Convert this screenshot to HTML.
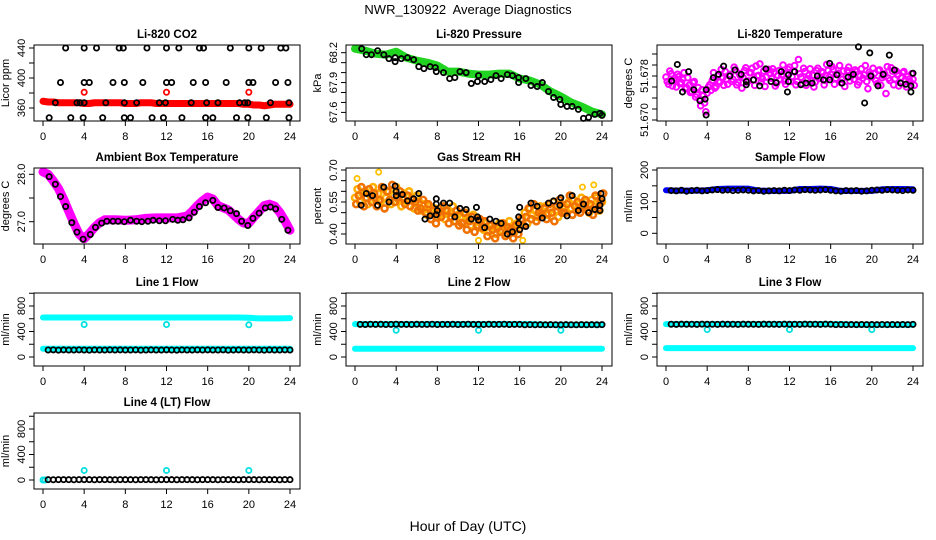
<!DOCTYPE html>
<html><head><meta charset="utf-8">
<style>
html,body{margin:0;padding:0;background:#fff;}
svg{display:block;font-family:"Liberation Sans",Arial,sans-serif;}
</style></head>
<body>
<svg id="chart" width="936" height="540" viewBox="0 0 936 540" xmlns="http://www.w3.org/2000/svg">
<text x="468" y="14" text-anchor="middle" font-size="13" style="white-space:pre">NWR_130922  Average Diagnostics</text>
<text x="468" y="531" text-anchor="middle" font-size="14">Hour of Day (UTC)</text>
</svg>
<script>
// ---------- data ----------
const xTicks = [0,4,8,12,16,20,24];
const cloudStep = 0.25;

const co2RedHalfHourly = [369,368,368,367,367,367,367,367,366,366,367,367,367,367,367,367,366,366,366,367,367,367,366,366,366,366,366,366,366,366,366,366,366,366,366,366,366,366,366,365,365,364,364,363,364,365,365,365,365];
const co2RedOutT = [4,12,20];
const co2RedOutV = [381,381,381];
const co2BlackT = [2.2,4,5.2,7.4,7.8,10.1,12,13.2,15.2,15.6,18.2,20,21.2,23.1,23.6, 1.7,4,4.5,6.8,7.9,9.7,12,12.5,14.6,15.8,17.8,20,20.4,22.6,23.8, 1.2,3.3,3.6,4,6.1,7.9,9.1,11.3,11.9,14.4,15.9,17,19.1,19.6,19.9,22.1,23.9, 0.6,2.7,3.9,5.8,7.9,8.5,10.6,11.7,13.5,15.8,16.5,18.8,19.9,21.7,23.9];
const co2BlackV = [440,440,440,440,440,440,440,440,440,440,440,440,440,440,440, 394,394,394,394,394,394,394,394,394,394,394,394,394,394,394, 367,367,367,367,367,367,367,367,367,367,367,367,367,367,367,367,367, 347,347,347,347,347,347,347,347,347,347,347,347,347,347,347];

const presGreenHourly = [68.24,68.22,68.19,68.18,68.21,68.15,68.12,68.10,68.07,68.01,68.01,67.99,67.98,67.98,67.99,67.99,67.94,67.92,67.88,67.81,67.76,67.70,67.66,67.61,67.58];
const presBlackT = [0.65,1.1,1.6,2.2,2.8,3.3,3.9,3.9,4.5,5.1,5.7,6.2,6.7,7.3,7.8,7.9,8.6,9.2,9.7,10.2,10.8,11.3,11.9,12,12.6,13.2,13.7,14.2,14.8,15.3,15.9,15.9,16.6,17.1,17.7,18.2,18.8,19.3,19.9,20,20.6,21.1,21.7,22.2,22.7,23.3,23.8,24];
const presBlackV = [68.24,68.18,68.18,68.22,68.18,68.14,68.15,68.11,68.14,68.15,68.13,68.06,68.04,68.06,68.05,68.01,68.0,67.94,67.95,68.01,68.0,67.89,67.91,67.97,67.91,67.93,67.97,67.94,67.98,67.97,67.95,67.90,67.94,67.87,67.86,67.90,67.81,67.75,67.73,67.68,67.66,67.66,67.63,67.54,67.55,67.58,67.59,67.57];

const tempMagA = [51.6778,51.6765,51.6784,51.6772,51.6760,51.6779,51.6768,51.6786,51.6759, 51.6763,51.6752,51.6770,51.6746,51.6738,51.6755,51.6731,51.6749, 51.6764,51.6772,51.6758,51.6780,51.6769,51.6776,51.6788,51.6765, 51.6783,51.6774,51.6791,51.6768,51.6780,51.6777,51.6795,51.6771, 51.6786,51.6773,51.6798,51.6781,51.6769,51.6789,51.6778,51.6792, 51.6776,51.6787,51.6767,51.6790,51.6782,51.6771,51.6785,51.6796, 51.6779,51.6799,51.6770,51.6784,51.6766,51.6788,51.6775,51.6793, 51.6781,51.6769,51.6794,51.6777,51.6786,51.6772,51.6790,51.6783, 51.6792,51.6776,51.6785,51.6768,51.6789,51.6779,51.6796,51.6780, 51.6774,51.6788,51.6769,51.6793,51.6782,51.6770,51.6787,51.6778, 51.6785,51.6766,51.6791,51.6777,51.6784,51.6797,51.6772,51.6789, 51.6775,51.6782,51.6768,51.6786,51.6773,51.6779,51.6769,51.6774];
const tempMagB = [51.6770,51.6789,51.6762,51.6776,51.6783,51.6766,51.6774,51.6757,51.6777, 51.6750,51.6768,51.6742,51.6759,51.6726,51.6744,51.6715,51.6760, 51.6754,51.6786,51.6761,51.6770,51.6792,51.6763,51.6774,51.6781, 51.6770,51.6796,51.6764,51.6784,51.6758,51.6790,51.6769,51.6786, 51.6794,51.6763,51.6780,51.6802,51.6775,51.6761,51.6791,51.6784, 51.6793,51.6762,51.6781,51.6774,51.6800,51.6765,51.6792,51.6770, 51.6788,51.6764,51.6810,51.6778,51.6794,51.6763,51.6781,51.6772, 51.6760,51.6790,51.6775,51.6788,51.6764,51.6801,51.6778,51.6797, 51.6765,51.6784,51.6799,51.6774,51.6761,51.6790,51.6771,51.6786, 51.6791,51.6764,51.6780,51.6776,51.6799,51.6757,51.6783,51.6794, 51.6772,51.6790,51.6763,51.6781,51.6748,51.6776,51.6795,51.6764, 51.6789,51.6762,51.6777,51.6788,51.6760,51.6774,51.6784,51.6763];
const tempBlackT = [0.55,1.1,1.6,2.2,2.7,3.3,3.8,3.9,3.9,4.6,5.1,5.6,6.2,6.7,7.3,7.8,7.8,8.5,9.1,9.7,10.2,10.7,11.2,11.8,11.9,11.9,12.5,13.1,13.6,14.2,14.7,15.3,15.9,15.9,16.6,17.1,17.7,18.2,18.7,19.3,19.8,19.9,20.6,21.1,21.7,22.2,22.8,23.3,23.8,23.8,24];
const tempBlackV = [51.6771,51.6801,51.6751,51.6788,51.6755,51.6735,51.6738,51.6755,51.6709,51.6777,51.6783,51.6798,51.6780,51.6791,51.6783,51.6770,51.6764,51.6773,51.6762,51.6793,51.6770,51.6768,51.6788,51.6751,51.6770,51.6782,51.6788,51.6764,51.6767,51.6767,51.6780,51.6773,51.6773,51.6803,51.6782,51.6767,51.6778,51.6783,51.6833,51.6731,51.6822,51.6780,51.6762,51.6783,51.6818,51.6791,51.6767,51.6765,51.6762,51.6751,51.6785];

const ambT = [0,0.5,1,1.5,2,2.5,3,3.5,4,4.5,5,5.5,6,7,8,9,10,11,12,13,14,14.5,15,15.5,16,16.5,17,18,19,19.5,20,20.5,21,21.5,22,22.5,23,23.5,24];
const ambMagV = [28.05,28.0,27.86,27.7,27.48,27.22,26.97,26.74,26.64,26.75,26.88,26.98,27.04,27.04,27.03,27.04,27.07,27.08,27.08,27.08,27.12,27.22,27.34,27.44,27.52,27.48,27.34,27.25,27.05,26.97,26.97,27.1,27.22,27.34,27.37,27.33,27.2,27.02,26.82];
const ambBlackT = [0.6,1.2,1.7,2.2,2.8,3.3,3.9,4.6,5.1,5.7,6.2,6.8,7.3,7.9,8.5,9.1,9.6,10.2,10.7,11.3,11.9,12.6,13.1,13.6,14.2,14.7,15.2,15.8,16.5,17,17.6,18.2,18.8,19.3,19.9,20.4,21,21.6,22.1,22.6,23.2,23.8];
const ambBlackV = [27.95,27.79,27.53,27.32,26.98,26.78,26.63,26.73,26.88,26.97,27.01,27.01,27.01,27.0,27.03,27.01,27.0,27.01,27.03,27.02,27.02,27.05,27.03,27.04,27.08,27.2,27.32,27.4,27.45,27.3,27.29,27.23,27.17,27.01,26.92,27.07,27.18,27.29,27.31,27.27,27.05,26.82];

const rhA = [.57,.61,.55,.59,.60,.54,.58,.62,.56, .59,.55,.61,.57,.60,.54,.58,.62, .56,.53,.59,.55,.60,.57,.52,.58, .55,.51,.54,.49,.53,.50,.52,.48, .52,.49,.47,.51,.50,.53,.46,.49, .48,.45,.50,.47,.44,.49,.46,.43, .46,.42,.45,.41,.44,.43,.40,.45, .42,.44,.40,.46,.43,.41,.45,.44, .47,.50,.45,.52,.49,.51,.48,.53, .50,.53,.49,.52,.55,.51,.48,.54, .53,.50,.55,.52,.56,.51,.54,.57, .52,.55,.50,.56,.53,.57,.51,.55];
const rhB = [.54,.58,.62,.53,.57,.61,.55,.59,.53, .56,.62,.52,.60,.56,.63,.55,.57, .60,.57,.54,.58,.53,.56,.55,.51, .52,.56,.50,.54,.47,.51,.45,.50, .48,.53,.51,.45,.48,.46,.51,.44, .45,.50,.42,.46,.48,.41,.44,.47, .43,.46,.39,.44,.42,.38,.43,.41, .45,.39,.43,.42,.38,.44,.40,.47, .44,.48,.52,.47,.54,.46,.50,.49, .52,.47,.54,.50,.46,.53,.56,.50, .50,.54,.58,.49,.53,.55,.50,.53, .56,.51,.54,.49,.58,.52,.55,.59];
const rhOutT = [0.2,2.3,22.1,23.2,12,16.3];
const rhOutV = [0.66,0.69,0.62,0.63,0.37,0.37];
const rhBlackT = [0.6,1.1,1.7,2.2,2.8,3.3,3.9,4.0,4.0,4.6,5.1,5.7,6.2,6.8,7.3,7.9,8.0,7.9,7.9,8.6,9.2,9.7,10.2,10.8,11.3,11.9,11.8,12,12.6,13.1,13.7,14.2,14.8,15.3,15.9,15.9,16,16,16.6,17.1,17.7,18.2,18.8,19.3,19.9,20,20.6,21.1,22.2,21.7,22.7,23.3,23.8,23.8,23.9,24];
const rhBlackV = [0.535,0.59,0.58,0.535,0.62,0.55,0.625,0.60,0.58,0.585,0.555,0.565,0.59,0.47,0.485,0.49,0.51,0.54,0.565,0.545,0.545,0.48,0.52,0.515,0.47,0.48,0.525,0.465,0.43,0.47,0.46,0.45,0.40,0.41,0.48,0.45,0.42,0.525,0.435,0.545,0.53,0.475,0.545,0.555,0.535,0.57,0.485,0.58,0.54,0.51,0.50,0.515,0.535,0.51,0.59,0.565];

const flowHours = [0.5,1,1.5,2,2.5,3,3.5,4,4.5,5,5.5,6,6.5,7,7.5,8,8.5,9,9.5,10,10.5,11,11.5,12,12.5,13,13.5,14,14.5,15,15.5,16,16.5,17,17.5,18,18.5,19,19.5,20,20.5,21,21.5,22,22.5,23,23.5,24];
const sampleBlueHourly = [136,135,135,135,136,140,141,141,141,135,134,134,134,140,140,141,140,134,134,134,134,139,140,140,139];
const sampleBlack = [135,134,136,133,135,136,134,135,137,138,136,137,135,136,137,136,134,135,133,134,135,134,136,135,137,136,138,137,136,137,138,136,134,133,135,134,135,133,134,136,137,136,138,137,136,135,137,136];

const line1CyanHighHourly = [620,620,620,620,620,620,620,620,620,620,620,620,620,620,620,620,620,620,620,620,615,605,605,605,610];
const line1CyanLowHourly = [130,130,130,130,130,130,130,130,130,130,130,130,130,130,130,130,130,130,130,130,130,130,130,130,130];
const line1Black = [110,112,108,111,109,110,112,110,108,111,110,109,112,110,111,109,110,112,108,110,111,110,109,112,110,108,111,110,109,112,110,111,109,110,112,108,110,111,110,109,112,110,108,111,110,109,112,110];
const line2CyanHighHourly = [515,515,515,515,515,515,515,515,515,515,515,515,515,515,515,515,515,515,510,505,505,505,505,505,505];
const line2CyanLowHourly = [130,130,130,130,130,130,130,130,130,130,130,130,130,130,130,130,130,130,130,130,130,130,130,130,130];
const line2Black = [512,510,514,511,513,510,512,514,511,512,510,513,511,512,514,510,512,511,513,510,512,514,511,512,510,513,511,512,514,510,512,511,505,508,506,507,505,508,506,505,507,506,505,508,506,507,505,508];
const line3CyanHighHourly = [515,515,515,515,515,515,515,515,515,515,515,515,515,515,515,515,515,515,510,505,505,505,505,505,505];
const line3CyanLowHourly = [140,140,140,140,140,140,140,140,140,140,140,140,140,140,140,140,140,140,140,140,140,140,140,140,140];
const line3Black = [514,512,515,513,514,512,515,513,514,512,515,513,514,512,515,513,514,512,515,513,514,512,515,513,514,512,515,513,514,512,515,513,508,510,508,509,507,510,508,509,507,510,508,509,507,510,508,512];
const line4CyanStart = [0,0];
const line4Black = [5,4,6,5,5,4,6,5,5,4,6,5,5,4,6,5,5,4,6,5,5,4,6,5,5,4,6,5,5,4,6,5,5,4,6,5,5,4,6,5,5,4,6,5,5,4,6,5];
const flowOutT = [4,12,20];
const line1OutV = [510,510,505];
const line2OutV = [420,420,420];
const line3OutV = [430,430,430];
const line4OutV = [150,150,150];

// ---------- helpers ----------
const NS = "http://www.w3.org/2000/svg";
const svg = document.getElementById('chart');
function mk(tag, parent){ const e = document.createElementNS(NS, tag); parent.appendChild(e); return e; }
const colX = [34, 346, 657];
const rowY = [[45,121],[168,244],[293,366],[413,489]];

function makePanel(ci, ri, name, title, ylab, v1, y1, v2, y2, yTicks, yLabels){
  const g = mk('g', svg);
  
  
  const x0 = colX[ci], x1 = x0 + 266, top = rowY[ri][0], bot = rowY[ri][1];
  const X = t => x0 + 9 + t * (247 / 24);
  const Y = v => y1 + (v - v1) * (y2 - y1) / (v2 - v1);
  const marks = mk('g', g);
  
  
  const box = mk('rect', g);
  box.setAttribute('x', x0); box.setAttribute('y', top); box.setAttribute('width', x1 - x0); box.setAttribute('height', bot - top);
  box.setAttribute('fill', 'none'); box.setAttribute('stroke', '#000'); box.setAttribute('stroke-width', '1');
  
  
  const tt = mk('text', g);
  tt.textContent = title;
  tt.setAttribute('x', (x0 + x1) / 2); tt.setAttribute('y', top - 7);
  tt.setAttribute('text-anchor', 'middle'); tt.setAttribute('font-size', '11.5'); tt.setAttribute('font-weight', 'bold');
  
  
  const yl = mk('text', g);
  yl.textContent = ylab;
  const ylx = x0 - 25, yly = (top + bot) / 2;
  yl.setAttribute('transform', 'translate(' + ylx + ',' + yly + ') rotate(-90)');
  yl.setAttribute('text-anchor', 'middle'); yl.setAttribute('font-size', '11');
  
  
  const xa = mk('g', g);
  
  
  xTicks.forEach(t => {
    const l = mk('line', xa);
    l.setAttribute('x1', X(t)); l.setAttribute('x2', X(t)); l.setAttribute('y1', bot); l.setAttribute('y2', bot + 5);
    l.setAttribute('stroke', '#000');
    const tx = mk('text', xa);
    tx.textContent = t;
    tx.setAttribute('x', X(t)); tx.setAttribute('y', bot + 19);
    tx.setAttribute('text-anchor', 'middle'); tx.setAttribute('font-size', '11');
    
    
  });
  const ya = mk('g', g);
  
  
  yTicks.forEach(v => {
    const l = mk('line', ya);
    l.setAttribute('x1', x0 - 5); l.setAttribute('x2', x0); l.setAttribute('y1', Y(v)); l.setAttribute('y2', Y(v));
    l.setAttribute('stroke', '#000');
  });
  yLabels.forEach(lab => {
    const tx = mk('text', ya);
    tx.textContent = lab;
    const lx = x0 - 9, ly = Y(parseFloat(lab));
    tx.setAttribute('transform', 'translate(' + lx + ',' + ly + ') rotate(-90)');
    tx.setAttribute('text-anchor', 'middle'); tx.setAttribute('font-size', '11');
    
    
  });
  return {X, Y, g: marks};
}
function dots(p, ts, vs, color, name, r, sw){
  const g = mk('g', p.g);
  
  
  for (let i = 0; i < vs.length; i++){
    const c = mk('circle', g);
    c.setAttribute('cx', p.X(ts[i])); c.setAttribute('cy', p.Y(vs[i])); c.setAttribute('r', r || 2.6);
    c.setAttribute('fill', 'none'); c.setAttribute('stroke', color); c.setAttribute('stroke-width', sw || 1.8);
    
    
  }
}
function stepDots(p, vs, step, start, color, name, r, sw){
  const ts = vs.map((v, i) => start + i * step);
  dots(p, ts, vs, color, name, r, sw);
}
function band(p, ts, vs, color, w, name){
  const pl = mk('polyline', p.g);
  const pts = vs.map((v, i) => p.X(ts[i]) + ',' + p.Y(v)).join(' ');
  pl.setAttribute('points', pts);
  pl.setAttribute('fill', 'none'); pl.setAttribute('stroke', color); pl.setAttribute('stroke-width', w);
  pl.setAttribute('stroke-linejoin', 'round'); pl.setAttribute('stroke-linecap', 'round');
  
  
}
function idxTimes(vs, step, start){ return vs.map((v, i) => start + i * step); }

// ---------- panels ----------
const flowTicks = [0,200,400,600,800,1000];
const flowLabels = ['0','400','800'];

const p1 = makePanel(0,0,'co2-panel','Li-820 CO2','Licor ppm',360,108,440,48,[360,380,400,420,440],['360','400','440']);
band(p1, idxTimes(co2RedHalfHourly,0.5,0), co2RedHalfHourly, '#ff0000', 7, 'co2-red-band');
dots(p1, co2RedOutT, co2RedOutV, '#ff0000', 'co2-red-outliers');
dots(p1, co2BlackT, co2BlackV, '#000', 'co2-black-series');

const p2 = makePanel(1,0,'pressure-panel','Li-820 Pressure','kPa',68.2,52.7,67.6,112.4,[67.6,67.7,67.8,67.9,68.0,68.1,68.2],['67.6','67.9','68.2']);
band(p2, idxTimes(presGreenHourly,1,0), presGreenHourly, '#22d422', 8, 'pressure-green-band');
dots(p2, presBlackT, presBlackV, '#000', 'pressure-black-series');

const p3 = makePanel(2,0,'temperature-panel','Li-820 Temperature','degrees C',51.670,120,51.678,76,[51.670,51.672,51.674,51.676,51.678,51.680,51.682],['51.670','51.678']);
stepDots(p3, tempMagA, cloudStep, 0, '#ff00ff', 'temp-magenta-a', 2.8, 2);
stepDots(p3, tempMagB, cloudStep, 0.12, '#ff00ff', 'temp-magenta-b', 2.8, 2);
dots(p3, tempBlackT, tempBlackV, '#000', 'temp-black-series');

const p4 = makePanel(0,1,'ambient-panel','Ambient Box Temperature','degrees C',27,221.7,28,174.3,[27.0,27.5,28.0],['27.0','28.0']);
band(p4, ambT, ambMagV, '#ff00ff', 9, 'ambient-magenta-band');
dots(p4, ambBlackT, ambBlackV, '#000', 'ambient-black-series');

const p5 = makePanel(1,1,'rh-panel','Gas Stream RH','percent',0.40,234,0.70,170,[0.40,0.45,0.50,0.55,0.60,0.65,0.70],['0.40','0.55','0.70']);
stepDots(p5, rhA, cloudStep, 0, '#ffb000', 'rh-cloud-a', 3, 2.6);
stepDots(p5, rhB, cloudStep, 0.12, '#f07000', 'rh-cloud-b', 3, 2.6);
dots(p5, rhOutT, rhOutV, '#ffc000', 'rh-outliers');
dots(p5, rhBlackT, rhBlackV, '#000', 'rh-black-series');

const p6 = makePanel(2,1,'sample-flow-panel','Sample Flow','ml/min',0,233.3,200,170,[0,50,100,150,200],['0','100','200']);
band(p6, idxTimes(sampleBlueHourly,1,0), sampleBlueHourly, '#0000ff', 6, 'sample-blue-band');
dots(p6, flowHours, sampleBlack, '#000', 'sample-black-series');

const p7 = makePanel(0,2,'line1-panel','Line 1 Flow','ml/min',0,357,800,306,flowTicks,flowLabels);
band(p7, idxTimes(line1CyanHighHourly,1,0), line1CyanHighHourly, '#00ffff', 6, 'line1-cyan-high');
band(p7, idxTimes(line1CyanLowHourly,1,0), line1CyanLowHourly, '#00ffff', 6, 'line1-cyan-low');
dots(p7, flowOutT, line1OutV, '#00e0e0', 'line1-cyan-outliers');
dots(p7, flowHours, line1Black, '#000', 'line1-black-series');

const p8 = makePanel(1,2,'line2-panel','Line 2 Flow','ml/min',0,357,800,306,flowTicks,flowLabels);
band(p8, idxTimes(line2CyanHighHourly,1,0), line2CyanHighHourly, '#00ffff', 6, 'line2-cyan-high');
band(p8, idxTimes(line2CyanLowHourly,1,0), line2CyanLowHourly, '#00ffff', 6, 'line2-cyan-low');
dots(p8, flowOutT, line2OutV, '#00e0e0', 'line2-cyan-outliers');
dots(p8, flowHours, line2Black, '#000', 'line2-black-series');

const p9 = makePanel(2,2,'line3-panel','Line 3 Flow','ml/min',0,357,800,306,flowTicks,flowLabels);
band(p9, idxTimes(line3CyanHighHourly,1,0), line3CyanHighHourly, '#00ffff', 6, 'line3-cyan-high');
band(p9, idxTimes(line3CyanLowHourly,1,0), line3CyanLowHourly, '#00ffff', 6, 'line3-cyan-low');
dots(p9, flowOutT, line3OutV, '#00e0e0', 'line3-cyan-outliers');
dots(p9, flowHours, line3Black, '#000', 'line3-black-series');

const p10 = makePanel(0,3,'line4-panel','Line 4 (LT) Flow','ml/min',0,480,800,429,flowTicks,flowLabels);
dots(p10, [0,0.2], line4CyanStart, '#00e0e0', 'line4-cyan-start');
dots(p10, flowOutT, line4OutV, '#00e0e0', 'line4-cyan-outliers');
dots(p10, flowHours, line4Black, '#000', 'line4-black-series');
</script>
</body></html>
